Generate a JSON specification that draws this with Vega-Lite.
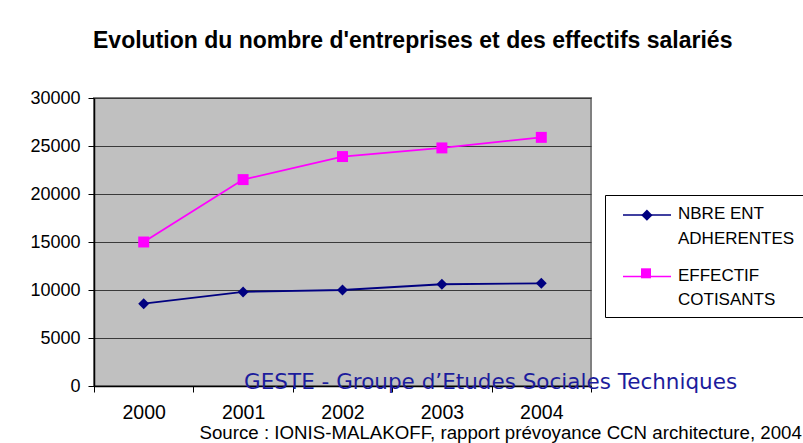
{
  "$schema": "https://vega.github.io/schema/vega-lite/v6.json",
  "autosize": "none",
  "width": 497,
  "height": 288,
  "padding": {"left": 94, "top": 98, "right": 212, "bottom": 57},
  "background": "white",
  "title": {
    "text": "Evolution du nombre d'entreprises et des effectifs salariés",
    "font": "Liberation Sans",
    "fontSize": 23,
    "fontWeight": "bold",
    "color": "black",
    "anchor": "start",
    "frame": "group",
    "baseline": "alphabetic",
    "offset": 18,
    "dx": -1
  },
  "config": {
    "view": {"fill": "#C0C0C0", "stroke": "#808080", "strokeWidth": 2},
    "font": "Liberation Sans",
    "style": {"guide-label": {"lineHeight": 24.5}}
  },
  "datasets": {
    "series": [
      {"year": "2000", "serie": "NBRE ENT ADHERENTES", "value": 8570},
      {"year": "2001", "serie": "NBRE ENT ADHERENTES", "value": 9800},
      {"year": "2002", "serie": "NBRE ENT ADHERENTES", "value": 10000},
      {"year": "2003", "serie": "NBRE ENT ADHERENTES", "value": 10600},
      {"year": "2004", "serie": "NBRE ENT ADHERENTES", "value": 10700},
      {"year": "2000", "serie": "EFFECTIF COTISANTS", "value": 15000},
      {"year": "2001", "serie": "EFFECTIF COTISANTS", "value": 21500},
      {"year": "2002", "serie": "EFFECTIF COTISANTS", "value": 23900},
      {"year": "2003", "serie": "EFFECTIF COTISANTS", "value": 24800},
      {"year": "2004", "serie": "EFFECTIF COTISANTS", "value": 25900}
    ],
    "notes": [
      {"year": "2001", "value": 0, "note": "GESTE - Groupe d’Etudes Sociales Techniques"}
    ]
  },
  "layer": [
    {
      "data": {"name": "series"},
      "mark": {"type": "line", "strokeWidth": 1.8},
      "encoding": {
        "x": {
          "field": "year", "type": "ordinal",
          "scale": {"type": "band", "paddingInner": 0, "paddingOuter": 0},
          "axis": {
            "title": "Source : IONIS-MALAKOFF, rapport prévoyance CCN architecture, 2004",
            "titleFont": "Liberation Sans", "titleFontSize": 18.7, "titleFontWeight": "normal", "titleColor": "black",
            "titleAlign": "left", "titleAnchor": "start", "titleBaseline": "alphabetic",
            "titleX": 105, "titleY": 52,
            "labelAngle": 0, "labelFontSize": 19.5, "labelColor": "black", "labelPadding": 11,
            "tickBand": "extent", "tickColor": "black", "tickSize": 6,
            "domainColor": "black", "domainWidth": 1.5, "grid": false
          }
        },
        "y": {
          "field": "value", "type": "quantitative",
          "scale": {"domain": [0, 30000], "nice": false},
          "axis": {
            "title": null, "values": [0, 5000, 10000, 15000, 20000, 25000, 30000], "format": "d",
            "labelFontSize": 18, "labelColor": "black", "labelPadding": 8,
            "tickColor": "black", "tickSize": 6, "domainColor": "black", "domainWidth": 1.5,
            "grid": true, "gridColor": "#3a3a3a", "gridWidth": 1
          }
        },
        "color": {
          "field": "serie", "type": "nominal",
          "scale": {"domain": ["NBRE ENT ADHERENTES", "EFFECTIF COTISANTS"], "range": ["#000080", "#FF00FF"]},
          "legend": {
            "title": null, "orient": "none", "legendX": 511, "legendY": 97,
            "strokeColor": "black", "fillColor": "white", "padding": 8,
            "symbolOffset": 23, "symbolSize": 400, "symbolType": "M-2.4,0.1H2.4", "symbolStrokeWidth": 1.5,
            "labelFontSize": 17, "labelColor": "black",
            "labelOffset": 20, "rowPadding": 17.6, "labelLimit": 400,
            "labelExpr": "datum.label === 'NBRE ENT ADHERENTES' ? ['NBRE ENT', 'ADHERENTES\u00a0\u00a0\u00a0\u00a0\u00a0\u00a0\u00a0'] : ['EFFECTIF', 'COTISANTS']"
          }
        }
      }
    },
    {
      "data": {"name": "series"},
      "mark": {"type": "point", "filled": true, "opacity": 1, "size": 120},
      "encoding": {
        "x": {"field": "year", "type": "ordinal"},
        "y": {"field": "value", "type": "quantitative"},
        "fill": {
          "field": "serie", "type": "nominal",
          "sort": ["NBRE ENT ADHERENTES", "EFFECTIF COTISANTS"],
          "scale": {"range": ["#000080", "#FF00FF"]},
          "legend": {
            "title": null, "orient": "none", "legendX": 546.4, "legendY": 110.7,
            "values": ["NBRE ENT ADHERENTES"], "symbolType": "diamond",
            "padding": 0, "symbolOffset": 0, "symbolSize": 125, "labelExpr": "''",
            "labelFontSize": 10, "strokeColor": null, "fillColor": null
          }
        },
        "shape": {
          "field": "serie", "type": "nominal",
          "sort": ["NBRE ENT ADHERENTES", "EFFECTIF COTISANTS"],
          "scale": {"range": ["diamond", "square"]},
          "legend": {
            "title": null, "orient": "none", "legendX": 547, "legendY": 170.3,
            "values": ["EFFECTIF COTISANTS"],
            "symbolFillColor": "#FF00FF", "symbolStrokeColor": "#FF00FF", "symbolStrokeWidth": 0,
            "padding": 0, "symbolOffset": 0, "symbolSize": 100, "labelExpr": "''",
            "labelFontSize": 10, "strokeColor": null, "fillColor": null
          }
        }
      }
    },
    {
      "data": {"name": "notes"},
      "mark": {"type": "text", "align": "left", "baseline": "alphabetic", "dy": 3, "dx": 1, "font": "DejaVu Sans", "fontSize": 21.5, "color": "#1c1c9c"},
      "encoding": {
        "x": {"field": "year", "type": "ordinal"},
        "y": {"field": "value", "type": "quantitative"},
        "text": {"field": "note"}
      }
    }
  ]
}
